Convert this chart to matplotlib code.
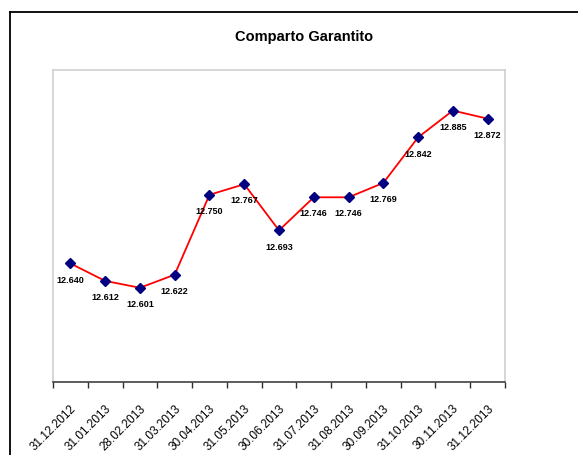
import matplotlib
matplotlib.use("Agg")
import matplotlib.pyplot as plt
from matplotlib.lines import Line2D
from matplotlib.ticker import FixedLocator, NullFormatter

plt.rcParams['font.family'] = ['Liberation Sans', 'DejaVu Sans']

dates = ["31.12.2012", "31.01.2013", "28.02.2013", "31.03.2013", "30.04.2013",
         "31.05.2013", "30.06.2013", "31.07.2013", "31.08.2013", "30.09.2013",
         "31.10.2013", "30.11.2013", "31.12.2013"]
values = [12.640, 12.612, 12.601, 12.622, 12.750, 12.767, 12.693,
          12.746, 12.746, 12.769, 12.842, 12.885, 12.872]
title = "Comparto Garantito"

W, H = 578, 455
fig = plt.figure(figsize=(W / 100, H / 100), dpi=100)
fig.patch.set_facecolor("white")

# outer chart border (top and left edges)
fig.add_artist(Line2D([10 / W, 1.0], [1 - 12 / H, 1 - 12 / H],
                      transform=fig.transFigure, color="black", lw=1.3))
fig.add_artist(Line2D([10 / W, 10 / W], [0.0, 1 - 12 / H],
                      transform=fig.transFigure, color="black", lw=1.3))

ax = fig.add_axes([53 / W, (H - 382) / H, (505 - 53) / W, (382 - 70) / H])
x = list(range(len(values)))
ax.plot(x, values, color="#FF0000", lw=1.3, zorder=2)
ax.plot(x, values, ls="none", marker="D", ms=5.5, color="#000080",
        markeredgecolor="#000080", zorder=3)

for xi, v in zip(x, values):
    ax.annotate(f"{v:.3f}", (xi, v), xytext=(0, -12), textcoords="offset points",
                ha="center", va="center", fontsize=6.5, fontweight="bold",
                color="black")

ax.set_xlim(-0.5, len(values) - 0.5)
ax.set_ylim(12.45, 12.95)

# category labels at centres, tick marks at category boundaries
ax.set_xticks(x)
ax.set_xticklabels(dates, rotation=45, ha="right", rotation_mode="anchor",
                   fontsize=8.5)
ax.tick_params(axis="x", which="major", length=0, pad=15)
ax.xaxis.set_minor_locator(FixedLocator([i - 0.5 for i in range(len(values) + 1)]))
ax.xaxis.set_minor_formatter(NullFormatter())
ax.tick_params(axis="x", which="minor", length=4.5, width=1.0, color="#303030",
               direction="out")
ax.set_yticks([])

for side in ("top", "left", "right"):
    ax.spines[side].set_color("#CFCFCF")
    ax.spines[side].set_linewidth(1.2)
ax.spines["bottom"].set_color("#303030")
ax.spines["bottom"].set_linewidth(1.1)

fig.text(304 / W, 1 - 37 / H, title, ha="center", va="center",
         fontsize=10.5, fontweight="bold")

fig.savefig("out.png", dpi=100, facecolor="white")
